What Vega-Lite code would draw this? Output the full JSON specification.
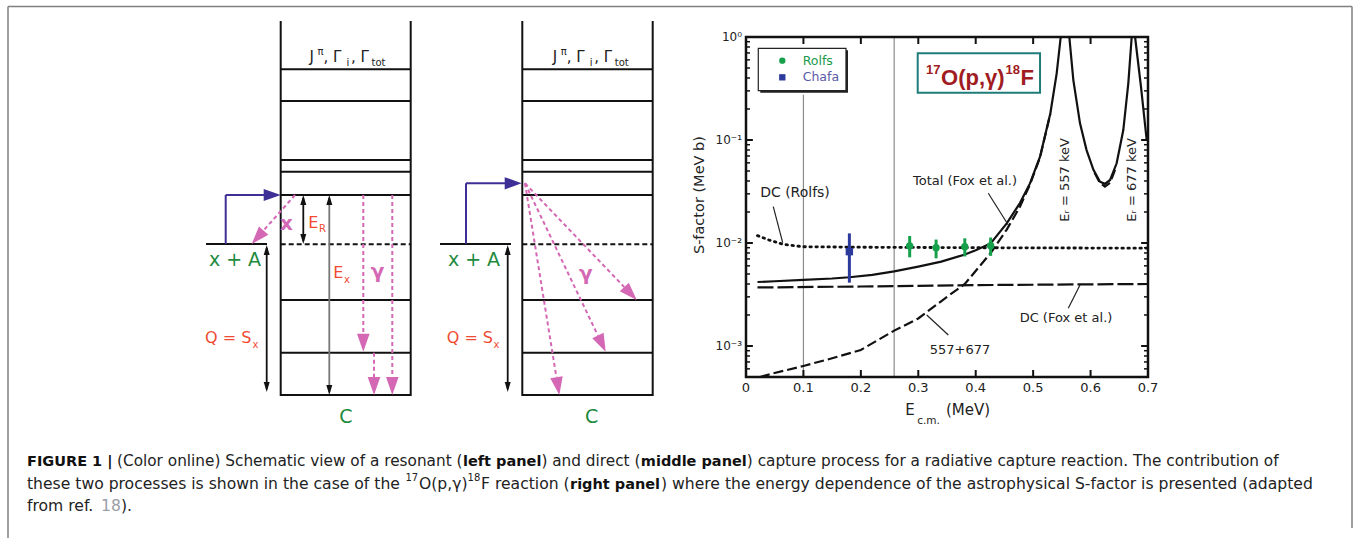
{
"$schema":"https://vega.github.io/schema/vega-lite/v6.json",
"width":1356,"height":538,"padding":0,"autosize":{"type":"none"},
"background":"#ffffff",
"config":{"view":{"stroke":null},"text":{"font":"DejaVu Sans"}},
"datasets":{
"border":[{"x":8,"y":538,"x2":8,"y2":6.5},{"x":8,"y":6.5,"x2":1352,"y2":6.5},{"x":1352,"y":6.5,"x2":1352,"y2":528}],
"levels":[
{"x":280.7,"x2":410.7,"y":69.3,"y2":69.3},{"x":280.7,"x2":410.7,"y":101,"y2":101},{"x":280.7,"x2":410.7,"y":160,"y2":160},{"x":280.7,"x2":410.7,"y":171.7,"y2":171.7},{"x":280.7,"x2":410.7,"y":195,"y2":195},{"x":280.7,"x2":410.7,"y":300,"y2":300},{"x":280.7,"x2":410.7,"y":352.7,"y2":352.7},{"x":280.7,"x2":410.7,"y":395,"y2":395},
{"x":522.3,"x2":652.7,"y":69.3,"y2":69.3},{"x":522.3,"x2":652.7,"y":101,"y2":101},{"x":522.3,"x2":652.7,"y":160,"y2":160},{"x":522.3,"x2":652.7,"y":171.7,"y2":171.7},{"x":522.3,"x2":652.7,"y":195,"y2":195},{"x":522.3,"x2":652.7,"y":300,"y2":300},{"x":522.3,"x2":652.7,"y":352.7,"y2":352.7},{"x":522.3,"x2":652.7,"y":395,"y2":395},
{"x":280.7,"x2":280.7,"y":21,"y2":396},{"x":410.7,"x2":410.7,"y":21,"y2":396},{"x":522.3,"x2":522.3,"y":21,"y2":396},{"x":652.7,"x2":652.7,"y":21,"y2":396},
{"x":206,"x2":267,"y":244,"y2":244},{"x":440,"x2":511,"y":244,"y2":244}],
"dashlevels":[{"x":280.7,"x2":410.7,"y":244.3,"y2":244.3},{"x":522.3,"x2":652.7,"y":244.3,"y2":244.3}],
"blue":[{"x":225.7,"y":244,"x2":225.7,"y2":195},{"x":225.7,"y":195,"x2":265,"y2":195},{"x":466,"y":244,"x2":466,"y2":183.3},{"x":466,"y":183.3,"x2":506,"y2":183.3}],
"bluehead":[{"x":272.2,"y":195},{"x":513.2,"y":183.3}],
"shafts":[{"x":303.3,"y":198,"x2":303.3,"y2":241},{"x":266.7,"y":248,"x2":266.7,"y2":389},{"x":507.7,"y":248,"x2":507.7,"y2":389}],
"shaftgray":[{"x":329.3,"y":198,"x2":329.3,"y2":392}],
"headup":[{"x":303.3,"y":200},{"x":329.3,"y":200},{"x":266.7,"y":250},{"x":507.7,"y":250}],
"headdown":[{"x":303.3,"y":239},{"x":329.3,"y":390},{"x":266.7,"y":387},{"x":507.7,"y":387}],
"pink":[{"x":363.3,"y":195,"x2":363.3,"y2":334},{"x":374,"y":352.7,"x2":374,"y2":377},{"x":392.3,"y":195,"x2":392.3,"y2":377},{"x":295,"y":195,"x2":263.6,"y2":230.5},{"x":525,"y":183.3,"x2":624.2,"y2":287},{"x":525,"y":183.3,"x2":597.9,"y2":335.5},{"x":525,"y":183.3,"x2":556.4,"y2":377.2}],
"pinkhead":[{"x":363.3,"y":342.7,"dir":0},{"x":374,"y":386,"dir":0},{"x":392.3,"y":386,"dir":0},{"x":257.7,"y":237.3,"dir":41.5},{"x":630.5,"y":293.5,"dir":-43.75},{"x":601.8,"y":343.6,"dir":-25.6},{"x":557.9,"y":386.1,"dir":-9.2}],
"greentext":[{"x":235,"y":260,"t":"x + A"},{"x":474,"y":260,"t":"x + A"},{"x":345.8,"y":416.7,"t":"C"},{"x":591.7,"y":416.7,"t":"C"}],
"redtext":[{"x":205,"y":343.3,"t":"Q = S"},{"x":446.7,"y":343.3,"t":"Q = S"},{"x":308.3,"y":228.3,"t":"E"},{"x":333.3,"y":278.3,"t":"E"}],
"redsub":[{"x":252.5,"y":347.5,"t":"x"},{"x":493.5,"y":347.5,"t":"x"},{"x":319,"y":232,"t":"R"},{"x":344,"y":282.5,"t":"x"}],
"pinktext":[{"x":286.5,"y":224,"t":"x"},{"x":377.5,"y":271.7,"t":"γ"},{"x":585.8,"y":274,"t":"γ"}],
"jtext":[{"x":309.5,"y":61.7,"t":"J"},{"x":323.5,"y":61.7,"t":", Γ"},{"x":351,"y":61.7,"t":", Γ"},{"x":552.8,"y":61.7,"t":"J"},{"x":566.8,"y":61.7,"t":", Γ"},{"x":594.3,"y":61.7,"t":", Γ"}],
"jsmall":[{"x":317.5,"y":55,"t":"π"},{"x":346.5,"y":66,"t":"i"},{"x":371.5,"y":66,"t":"tot"},{"x":560.8,"y":55,"t":"π"},{"x":589.8,"y":66,"t":"i"},{"x":614.8,"y":66,"t":"tot"}],
"capreg1":[{"x":117,"y":466,"t":"(Color online) Schematic view of a resonant ("},{"x":541.4,"y":466,"t":") and direct ("},{"x":746.8,"y":466,"t":") capture process for a radiative capture reaction. The contribution of"}],
"capreg":[{"x":27,"y":488.5,"t":"these two processes is shown in the case of the"},{"x":419,"y":488.5,"t":"O(p,γ)"},{"x":481,"y":488.5,"t":"F reaction ("},{"x":661,"y":488.5,"t":") where the energy dependence of the astrophysical S-factor is presented (adapted"},{"x":27,"y":511,"t":"from ref."},{"x":121,"y":511,"t":")."}],
"capbold":[{"x":27,"y":466,"t":"FIGURE 1 |"},{"x":463,"y":466,"t":"left panel"},{"x":640.8,"y":466,"t":"middle panel"},{"x":570,"y":488.5,"t":"right panel"}],
"capsup":[{"x":405.4,"y":481,"t":"17"},{"x":467.6,"y":481,"t":"18"}],
"caplink":[{"x":101,"y":511,"t":"18"}],
"pvlines":[{"x":0.1,"y":0.0005,"y2":0.275},{"x":0.258,"y":0.0005,"y2":1}],
"dcrolfs":[{"x":0.02,"y":0.0118},{"x":0.04,"y":0.0107},{"x":0.065,"y":0.0097},{"x":0.1,"y":0.0092},{"x":0.2,"y":0.0091},{"x":0.4,"y":0.009},{"x":0.7,"y":0.0089}],
"dcfox":[{"x":0.02,"y":0.0037},{"x":0.2,"y":0.00378},{"x":0.4,"y":0.0039},{"x":0.7,"y":0.004}],
"res":[{"s":"a","x":0.0244,"y":0.0005},{"s":"a","x":0.0476,"y":0.000543},{"s":"a","x":0.1,"y":0.00064},{"s":"a","x":0.15,"y":0.00076},{"s":"a","x":0.2,"y":0.000915},{"s":"a","x":0.258,"y":0.00141},{"s":"a","x":0.3,"y":0.00185},{"s":"a","x":0.35,"y":0.003},{"s":"a","x":0.381,"y":0.004},{"s":"a","x":0.426,"y":0.008},{"s":"a","x":0.454,"y":0.0135},{"s":"a","x":0.477,"y":0.0225},{"s":"a","x":0.4945,"y":0.037},{"s":"a","x":0.512,"y":0.068},{"s":"a","x":0.53,"y":0.18},
{"s":"b","x":0.607,"y":0.048},{"s":"b","x":0.616,"y":0.0385},{"s":"b","x":0.625,"y":0.0352},{"s":"b","x":0.634,"y":0.0385},{"s":"b","x":0.643,"y":0.052}],
"total":[{"s":"a","x":0.02,"y":0.00418},{"s":"a","x":0.05,"y":0.00425},{"s":"a","x":0.1,"y":0.00438},{"s":"a","x":0.15,"y":0.00452},{"s":"a","x":0.18,"y":0.00465},{"s":"a","x":0.22,"y":0.0049},{"s":"a","x":0.258,"y":0.0053},{"s":"a","x":0.3,"y":0.0059},{"s":"a","x":0.34,"y":0.0066},{"s":"a","x":0.38,"y":0.0077},{"s":"a","x":0.4,"y":0.0085},{"s":"a","x":0.426,"y":0.0099},{"s":"a","x":0.454,"y":0.0155},{"s":"a","x":0.477,"y":0.0244},{"s":"a","x":0.4945,"y":0.0379},{"s":"a","x":0.512,"y":0.0688},{"s":"a","x":0.53,"y":0.182},{"s":"a","x":0.541,"y":0.444},{"s":"a","x":0.548,"y":1},
{"s":"b","x":0.563,"y":1},{"s":"b","x":0.57,"y":0.382},{"s":"b","x":0.5816,"y":0.145},{"s":"b","x":0.593,"y":0.0798},{"s":"b","x":0.605,"y":0.0513},{"s":"b","x":0.6164,"y":0.0394},{"s":"b","x":0.625,"y":0.0375},{"s":"b","x":0.634,"y":0.0409},{"s":"b","x":0.6454,"y":0.0594},{"s":"b","x":0.657,"y":0.125},{"s":"b","x":0.6657,"y":0.355},{"s":"b","x":0.6716,"y":1},
{"s":"c","x":0.6775,"y":1},{"s":"c","x":0.688,"y":0.32},{"s":"c","x":0.6977,"y":0.1}],
"frame":[{"x":0,"x2":0.7,"y":0.0005,"y2":1}],
"ticks":[
{"x":0.1,"x2":0.1,"y":0.0005,"y2":0.000585},{"x":0.2,"x2":0.2,"y":0.0005,"y2":0.000585},{"x":0.3,"x2":0.3,"y":0.0005,"y2":0.000585},{"x":0.4,"x2":0.4,"y":0.0005,"y2":0.000585},{"x":0.5,"x2":0.5,"y":0.0005,"y2":0.000585},{"x":0.6,"x2":0.6,"y":0.0005,"y2":0.000585},
{"x":0.1,"x2":0.1,"y":0.855,"y2":1},{"x":0.2,"x2":0.2,"y":0.855,"y2":1},{"x":0.3,"x2":0.3,"y":0.855,"y2":1},{"x":0.4,"x2":0.4,"y":0.855,"y2":1},{"x":0.5,"x2":0.5,"y":0.855,"y2":1},{"x":0.6,"x2":0.6,"y":0.855,"y2":1},
{"x":0,"x2":0.012,"y":0.001,"y2":0.001},{"x":0,"x2":0.012,"y":0.01,"y2":0.01},{"x":0,"x2":0.012,"y":0.1,"y2":0.1},
{"x":0.688,"x2":0.7,"y":0.001,"y2":0.001},{"x":0.688,"x2":0.7,"y":0.01,"y2":0.01},{"x":0.688,"x2":0.7,"y":0.1,"y2":0.1}],
"minorticks":[
{"x":0,"x2":0.007,"y":0.0006,"y2":0.0006},{"x":0,"x2":0.007,"y":0.0007,"y2":0.0007},{"x":0,"x2":0.007,"y":0.0008,"y2":0.0008},{"x":0,"x2":0.007,"y":0.0009,"y2":0.0009},
{"x":0,"x2":0.007,"y":0.002,"y2":0.002},{"x":0,"x2":0.007,"y":0.003,"y2":0.003},{"x":0,"x2":0.007,"y":0.004,"y2":0.004},{"x":0,"x2":0.007,"y":0.005,"y2":0.005},{"x":0,"x2":0.007,"y":0.006,"y2":0.006},{"x":0,"x2":0.007,"y":0.007,"y2":0.007},{"x":0,"x2":0.007,"y":0.008,"y2":0.008},{"x":0,"x2":0.007,"y":0.009,"y2":0.009},
{"x":0,"x2":0.007,"y":0.02,"y2":0.02},{"x":0,"x2":0.007,"y":0.03,"y2":0.03},{"x":0,"x2":0.007,"y":0.04,"y2":0.04},{"x":0,"x2":0.007,"y":0.05,"y2":0.05},{"x":0,"x2":0.007,"y":0.06,"y2":0.06},{"x":0,"x2":0.007,"y":0.07,"y2":0.07},{"x":0,"x2":0.007,"y":0.08,"y2":0.08},{"x":0,"x2":0.007,"y":0.09,"y2":0.09},
{"x":0,"x2":0.007,"y":0.2,"y2":0.2},{"x":0,"x2":0.007,"y":0.3,"y2":0.3},{"x":0,"x2":0.007,"y":0.4,"y2":0.4},{"x":0,"x2":0.007,"y":0.5,"y2":0.5},{"x":0,"x2":0.007,"y":0.6,"y2":0.6},{"x":0,"x2":0.007,"y":0.7,"y2":0.7},{"x":0,"x2":0.007,"y":0.8,"y2":0.8},{"x":0,"x2":0.007,"y":0.9,"y2":0.9},
{"x":0.693,"x2":0.7,"y":0.0006,"y2":0.0006},{"x":0.693,"x2":0.7,"y":0.0007,"y2":0.0007},{"x":0.693,"x2":0.7,"y":0.0008,"y2":0.0008},{"x":0.693,"x2":0.7,"y":0.0009,"y2":0.0009},
{"x":0.693,"x2":0.7,"y":0.002,"y2":0.002},{"x":0.693,"x2":0.7,"y":0.003,"y2":0.003},{"x":0.693,"x2":0.7,"y":0.004,"y2":0.004},{"x":0.693,"x2":0.7,"y":0.005,"y2":0.005},{"x":0.693,"x2":0.7,"y":0.006,"y2":0.006},{"x":0.693,"x2":0.7,"y":0.007,"y2":0.007},{"x":0.693,"x2":0.7,"y":0.008,"y2":0.008},{"x":0.693,"x2":0.7,"y":0.009,"y2":0.009},
{"x":0.693,"x2":0.7,"y":0.02,"y2":0.02},{"x":0.693,"x2":0.7,"y":0.03,"y2":0.03},{"x":0.693,"x2":0.7,"y":0.04,"y2":0.04},{"x":0.693,"x2":0.7,"y":0.05,"y2":0.05},{"x":0.693,"x2":0.7,"y":0.06,"y2":0.06},{"x":0.693,"x2":0.7,"y":0.07,"y2":0.07},{"x":0.693,"x2":0.7,"y":0.08,"y2":0.08},{"x":0.693,"x2":0.7,"y":0.09,"y2":0.09},
{"x":0.693,"x2":0.7,"y":0.2,"y2":0.2},{"x":0.693,"x2":0.7,"y":0.3,"y2":0.3},{"x":0.693,"x2":0.7,"y":0.4,"y2":0.4},{"x":0.693,"x2":0.7,"y":0.5,"y2":0.5},{"x":0.693,"x2":0.7,"y":0.6,"y2":0.6},{"x":0.693,"x2":0.7,"y":0.7,"y2":0.7},{"x":0.693,"x2":0.7,"y":0.8,"y2":0.8},{"x":0.693,"x2":0.7,"y":0.9,"y2":0.9}],
"leaders":[{"x":0.0475,"y":0.0225,"x2":0.0639,"y2":0.01007},{"x":0.4219,"y":0.0304,"x2":0.4567,"y2":0.01495},{"x":0.5612,"y":0.00232,"x2":0.5816,"y2":0.00391},{"x":0.3523,"y":0.00128,"x2":0.3147,"y2":0.002}],
"boxshadow":[{"x":0.0249,"x2":0.1776,"y":0.288,"y2":0.743}],
"legendbox":[{"x":0.0214,"x2":0.1741,"y":0.301,"y2":0.777}],
"titlebox":[{"x":0.299,"x2":0.512,"y":0.288,"y2":0.695}],
"rolfs":[{"x":0.285,"y":0.00935,"lo":0.00726,"hi":0.0117},{"x":0.331,"y":0.009,"lo":0.0071,"hi":0.0108},{"x":0.381,"y":0.0092,"lo":0.0074,"hi":0.0111},{"x":0.426,"y":0.0094,"lo":0.0075,"hi":0.0113}],
"chafa":[{"x":0.18,"y":0.00824,"lo":0.00412,"hi":0.0124}],
"xlabels":[{"x":0,"y":0.0005,"t":"0"},{"x":0.1,"y":0.0005,"t":"0.1"},{"x":0.2,"y":0.0005,"t":"0.2"},{"x":0.3,"y":0.0005,"t":"0.3"},{"x":0.4,"y":0.0005,"t":"0.4"},{"x":0.5,"y":0.0005,"t":"0.5"},{"x":0.6,"y":0.0005,"t":"0.6"},{"x":0.7,"y":0.0005,"t":"0.7"}],
"ylabels":[{"x":0,"y":1,"t":"10⁰"},{"x":0,"y":0.1,"t":"10⁻¹"},{"x":0,"y":0.01,"t":"10⁻²"},{"x":0,"y":0.001,"t":"10⁻³"}]
},
"layer":[
{
"encoding":{
"x":{"field":"x","type":"quantitative","scale":{"domain":[0,1356],"range":[0,1356],"nice":false,"zero":false},"axis":null},
"y":{"field":"y","type":"quantitative","scale":{"domain":[0,538],"range":[0,538],"nice":false,"zero":false},"axis":null}},
"layer":[
{"data":{"name":"border"},"mark":{"type":"rule","color":"#808080","strokeWidth":1.5},"encoding":{"x2":{"field":"x2"},"y2":{"field":"y2"}}},
{"data":{"name":"levels"},"mark":{"type":"rule","color":"#111111","strokeWidth":2},"encoding":{"x2":{"field":"x2"},"y2":{"field":"y2"}}},
{"data":{"name":"dashlevels"},"mark":{"type":"rule","color":"#111111","strokeWidth":2,"strokeDash":[5,3]},"encoding":{"x2":{"field":"x2"},"y2":{"field":"y2"}}},
{"data":{"name":"blue"},"mark":{"type":"rule","color":"#3d2f95","strokeWidth":2},"encoding":{"x2":{"field":"x2"},"y2":{"field":"y2"}}},
{"data":{"name":"bluehead"},"mark":{"type":"point","shape":"M1,0L-1,-0.72L-1,0.72Z","size":289,"filled":true,"color":"#3d2f95","opacity":1,"strokeWidth":0}},
{"data":{"name":"shafts"},"mark":{"type":"rule","color":"#111111","strokeWidth":1.8},"encoding":{"x2":{"field":"x2"},"y2":{"field":"y2"}}},
{"data":{"name":"shaftgray"},"mark":{"type":"rule","color":"#777777","strokeWidth":1.8},"encoding":{"x2":{"field":"x2"},"y2":{"field":"y2"}}},
{"data":{"name":"headup"},"mark":{"type":"point","shape":"M0,-1L-0.6,1L0.6,1Z","size":100,"filled":true,"color":"#111111","opacity":1,"strokeWidth":0}},
{"data":{"name":"headdown"},"mark":{"type":"point","shape":"M0,1L-0.6,-1L0.6,-1Z","size":100,"filled":true,"color":"#111111","opacity":1,"strokeWidth":0}},
{"data":{"name":"pink"},"mark":{"type":"rule","color":"#d468b4","strokeWidth":2,"strokeDash":[4,3]},"encoding":{"x2":{"field":"x2"},"y2":{"field":"y2"}}},
{"data":{"name":"pinkhead"},"mark":{"type":"point","shape":"M0,1L-0.7,-1L0.7,-1Z","size":324,"filled":true,"color":"#d468b4","opacity":1,"strokeWidth":0},"encoding":{"angle":{"field":"dir","type":"quantitative","scale":null}}},
{"data":{"name":"greentext"},"mark":{"type":"text","align":"center","baseline":"middle","fontSize":19,"color":"#1d8a3e"},"encoding":{"text":{"field":"t"}}},
{"data":{"name":"redtext"},"mark":{"type":"text","align":"left","baseline":"alphabetic","fontSize":16,"color":"#f04a32"},"encoding":{"text":{"field":"t"}}},
{"data":{"name":"redsub"},"mark":{"type":"text","align":"left","baseline":"alphabetic","fontSize":10,"color":"#f04a32"},"encoding":{"text":{"field":"t"}}},
{"data":{"name":"pinktext"},"mark":{"type":"text","align":"center","baseline":"middle","fontSize":20,"fontWeight":"bold","color":"#d468b4"},"encoding":{"text":{"field":"t"}}},
{"data":{"name":"jtext"},"mark":{"type":"text","align":"left","baseline":"alphabetic","fontSize":15,"color":"#222222"},"encoding":{"text":{"field":"t"}}},
{"data":{"name":"jsmall"},"mark":{"type":"text","align":"left","baseline":"alphabetic","fontSize":10,"color":"#222222"},"encoding":{"text":{"field":"t"}}},
{"data":{"name":"capreg1"},"mark":{"type":"text","align":"left","baseline":"alphabetic","fontSize":15.3,"color":"#222222"},"encoding":{"text":{"field":"t"}}},
{"data":{"name":"capreg"},"mark":{"type":"text","align":"left","baseline":"alphabetic","fontSize":15.6,"color":"#222222"},"encoding":{"text":{"field":"t"}}},
{"data":{"name":"capbold"},"mark":{"type":"text","align":"left","baseline":"alphabetic","fontSize":14.5,"fontWeight":"bold","color":"#111111"},"encoding":{"text":{"field":"t"}}},
{"data":{"name":"capsup"},"mark":{"type":"text","align":"left","baseline":"alphabetic","fontSize":10,"color":"#222222"},"encoding":{"text":{"field":"t"}}},
{"data":{"name":"caplink"},"mark":{"type":"text","align":"left","baseline":"alphabetic","fontSize":15.6,"color":"#9a9ea6"},"encoding":{"text":{"field":"t"}}}
]},
{
"encoding":{
"x":{"field":"x","type":"quantitative","scale":{"domain":[0,0.7],"range":[746,1148],"nice":false,"zero":false},"axis":null},
"y":{"field":"y","type":"quantitative","scale":{"type":"log","domain":[0.0005,1],"range":[377,37],"nice":false},"axis":null}},
"layer":[
{"data":{"name":"pvlines"},"mark":{"type":"rule","color":"#8c8c8c","strokeWidth":1.2},"encoding":{"y2":{"field":"y2"}}},
{"data":{"name":"dcrolfs"},"mark":{"type":"line","color":"#111111","strokeWidth":2.8,"strokeDash":[1.5,4.5],"strokeCap":"round"}},
{"data":{"name":"dcfox"},"mark":{"type":"line","color":"#111111","strokeWidth":2.2,"strokeDash":[16,4]}},
{"data":{"name":"res"},"mark":{"type":"line","color":"#111111","strokeWidth":2.2,"strokeDash":[10,4]},"encoding":{"detail":{"field":"s"}}},
{"data":{"name":"total"},"mark":{"type":"line","color":"#111111","strokeWidth":2.2},"encoding":{"detail":{"field":"s"}}},
{"data":{"name":"frame"},"mark":{"type":"rect","fill":"#ffffff","fillOpacity":0,"stroke":"#111111","strokeWidth":2.5},"encoding":{"x2":{"field":"x2"},"y2":{"field":"y2"}}},
{"data":{"name":"ticks"},"mark":{"type":"rule","color":"#111111","strokeWidth":2},"encoding":{"x2":{"field":"x2"},"y2":{"field":"y2"}}},
{"data":{"name":"minorticks"},"mark":{"type":"rule","color":"#111111","strokeWidth":1.5},"encoding":{"x2":{"field":"x2"},"y2":{"field":"y2"}}},
{"data":{"name":"leaders"},"mark":{"type":"rule","color":"#222222","strokeWidth":1.2},"encoding":{"x2":{"field":"x2"},"y2":{"field":"y2"}}},
{"data":{"name":"boxshadow"},"mark":{"type":"rect","fill":"#222222"},"encoding":{"x2":{"field":"x2"},"y2":{"field":"y2"}}},
{"data":{"name":"legendbox"},"mark":{"type":"rect","fill":"#ffffff","stroke":"#222222","strokeWidth":1.2},"encoding":{"x2":{"field":"x2"},"y2":{"field":"y2"}}},
{"data":{"name":"titlebox"},"mark":{"type":"rect","fill":"#ffffff","stroke":"#1f7c7a","strokeWidth":2},"encoding":{"x2":{"field":"x2"},"y2":{"field":"y2"}}},
{"data":{"name":"rolfs"},"mark":{"type":"rule","color":"#16a04c","strokeWidth":3},"encoding":{"y":{"field":"lo","type":"quantitative"},"y2":{"field":"hi"}}},
{"data":{"name":"rolfs"},"mark":{"type":"point","shape":"circle","size":55,"filled":true,"color":"#16a04c","opacity":1}},
{"data":{"name":"chafa"},"mark":{"type":"rule","color":"#2b3a9c","strokeWidth":3},"encoding":{"y":{"field":"lo","type":"quantitative"},"y2":{"field":"hi"}}},
{"data":{"name":"chafa"},"mark":{"type":"point","shape":"square","size":55,"filled":true,"color":"#2b3a9c","opacity":1}},
{"data":{"values":[{"x":0.0632,"y":0.589}]},"mark":{"type":"point","shape":"circle","size":40,"filled":true,"color":"#16a04c","opacity":1}},
{"data":{"values":[{"x":0.0632,"y":0.406}]},"mark":{"type":"point","shape":"square","size":40,"filled":true,"color":"#2b3a9c","opacity":1}},
{"data":{"values":[{"x":0.0987,"y":0.589,"t":"Rolfs"}]},"mark":{"type":"text","align":"left","baseline":"middle","fontSize":12.5,"color":"#1a9a4a"},"encoding":{"text":{"field":"t"}}},
{"data":{"values":[{"x":0.0987,"y":0.406,"t":"Chafa"}]},"mark":{"type":"text","align":"left","baseline":"middle","fontSize":12.5,"color":"#5a5aa8"},"encoding":{"text":{"field":"t"}}},
{"data":{"values":[{"x":0.3134,"y":0.435,"t":"17"},{"x":0.4519,"y":0.435,"t":"18"}]},"mark":{"type":"text","align":"left","baseline":"alphabetic","fontSize":13,"fontWeight":"bold","font":"Liberation Sans","color":"#a01c22"},"encoding":{"text":{"field":"t"}}},
{"data":{"values":[{"x":0.3396,"y":0.342,"t":"O(p,γ)"},{"x":0.478,"y":0.342,"t":"F"}]},"mark":{"type":"text","align":"left","baseline":"alphabetic","fontSize":22,"fontWeight":"bold","font":"Liberation Sans","color":"#a01c22"},"encoding":{"text":{"field":"t"}}},
{"data":{"values":[{"x":0.0853,"y":0.0306,"t":"DC (Rolfs)"}]},"mark":{"type":"text","align":"center","baseline":"middle","fontSize":14,"color":"#222222"},"encoding":{"text":{"field":"t"}}},
{"data":{"values":[{"x":0.3813,"y":0.04,"t":"Total (Fox et al.)"},{"x":0.5572,"y":0.00186,"t":"DC (Fox et al.)"},{"x":0.3726,"y":0.000915,"t":"557+677"}]},"mark":{"type":"text","align":"center","baseline":"middle","fontSize":13,"color":"#222222"},"encoding":{"text":{"field":"t"}}},
{"data":{"values":[{"x":0.5555,"y":0.0409,"t":"Eᵣ = 557 keV"},{"x":0.6713,"y":0.0409,"t":"Eᵣ = 677 keV"}]},"mark":{"type":"text","align":"center","baseline":"middle","fontSize":13,"angle":270,"color":"#222222"},"encoding":{"text":{"field":"t"}}},
{"data":{"name":"xlabels"},"mark":{"type":"text","align":"center","baseline":"top","dy":5,"fontSize":13,"color":"#222222"},"encoding":{"text":{"field":"t"}}},
{"data":{"name":"ylabels"},"mark":{"type":"text","align":"right","baseline":"middle","dx":-4,"fontSize":12,"color":"#222222"},"encoding":{"text":{"field":"t"}}},
{"data":{"values":[{"x":-0.0801,"y":0.0292,"t":"S-factor (MeV b)"}]},"mark":{"type":"text","align":"center","baseline":"middle","fontSize":14.5,"angle":270,"color":"#222222"},"encoding":{"text":{"field":"t"}}},
{"data":{"values":[{"x":0.2856,"y":0.000239,"t":"E"},{"x":0.3866,"y":0.000239,"t":"(MeV)"}]},"mark":{"type":"text","align":"center","baseline":"middle","fontSize":15,"color":"#222222"},"encoding":{"text":{"field":"t"}}},
{"data":{"values":[{"x":0.3178,"y":0.000187,"t":"c.m."}]},"mark":{"type":"text","align":"center","baseline":"middle","fontSize":10.5,"color":"#222222"},"encoding":{"text":{"field":"t"}}}
]}
],
"resolve":{"scale":{"x":"independent","y":"independent"}}
}
